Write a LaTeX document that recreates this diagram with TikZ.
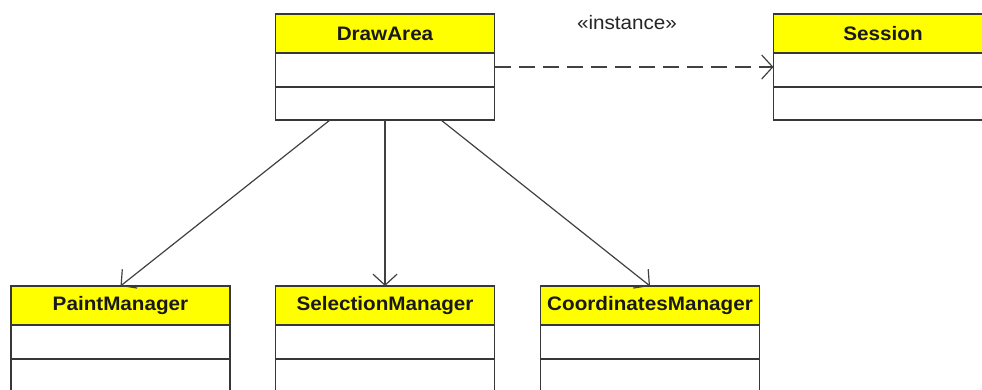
\documentclass[tikz,border=0pt]{standalone}
\usepackage{fontspec}
\setmainfont{Liberation Sans}[FakeStretch=1.06]
\usetikzlibrary{arrows.meta}

\definecolor{classyellow}{RGB}{255,255,0}
\definecolor{classline}{RGB}{55,55,55}
\definecolor{linkline}{RGB}{65,65,65}

\tikzset{
  classbody/.style={draw=classline, fill=white, line width=1.7pt,
    minimum width=219pt, minimum height=106pt, inner sep=0pt, outer sep=0pt},
  classhead/.style={draw=classline, fill=classyellow, line width=1.7pt,
    minimum width=219pt, minimum height=39pt, inner sep=0pt, outer sep=0pt,
    font=\fontsize{19.5}{22}\selectfont\bfseries, text=black!90},
  divider/.style={draw=classline, line width=1.7pt},
  openhead/.style={-{Straight Barb[length=11pt, width=24pt, line width=1.2pt]}},
  association/.style={draw=linkline, line width=1.2pt, openhead},
  dependency/.style={draw=linkline, line width=1.6pt, dash pattern=on 16pt off 8pt, openhead},
  stereotype/.style={font=\fontsize{19.5}{22}\selectfont, text=black!85}
}

% a class box: name, title, centre x, top edge (measured downwards)
\newcommand\umlclass[4]{%
  \node[classbody, anchor=north] (#1) at (#3, 389-#4) {};
  \node[classhead, anchor=north] (#1-head) at (#1.north) {#2};
  \draw[divider] ([yshift=-73pt]#1.north west) -- ([yshift=-73pt]#1.north east);
}

\begin{document}
\begin{tikzpicture}[x=1pt, y=1pt]
  \useasboundingbox (0,0) rectangle (982,389);
  \clip (0,0) rectangle (982,389);
  \fill[white] (0,0) rectangle (982,389);

  \umlclass{drawarea}{DrawArea}{385}{14}
  \umlclass{session}{Session}{883}{14}
  \umlclass{paint}{PaintManager}{120.5}{286}
  \umlclass{selection}{SelectionManager}{385}{286}
  \umlclass{coords}{CoordinatesManager}{650}{286}

  % dependency to the session
  \coordinate (dep-from) at ([yshift=-53pt]drawarea.north east);
  \coordinate (dep-to) at ([yshift=-53pt]session.north west);
  \draw[dependency] (dep-from) -- (dep-to);
  \node[stereotype] (inst) at (627, 389-23) {«instance»};

  % associations to the managers
  \coordinate (a1) at ([xshift=-55pt]drawarea.south);
  \coordinate (a2) at (drawarea.south);
  \coordinate (a3) at ([xshift=56pt]drawarea.south);
  \draw[association] (a1) -- (paint-head.north);
  \draw[association] (a2) -- (selection-head.north);
  \draw[association] (a3) -- (coords-head.north);
\end{tikzpicture}
\end{document}
